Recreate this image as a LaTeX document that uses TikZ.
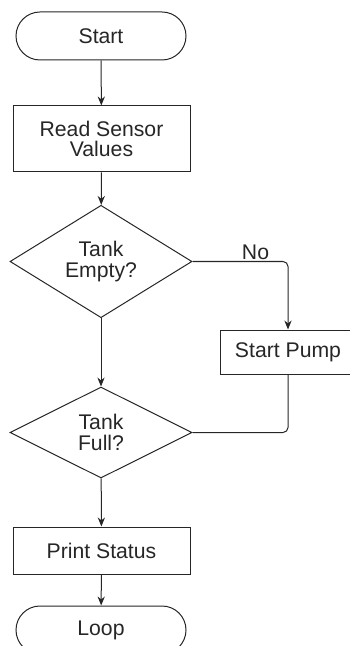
\documentclass[tikz,border=0pt]{standalone}
\usepackage{fontspec}
\setmainfont{Liberation Sans}
\usetikzlibrary{shapes.geometric,arrows.meta}
\begin{document}
\begin{tikzpicture}[x=0.5pt,y=-0.5pt,
  every node/.style={font=\fontsize{10.6}{10.4}\selectfont, align=center, inner sep=0pt, text=black!85},
  box/.style={draw=black!85, line width=0.5pt, rectangle},
  term/.style={draw=black!85, line width=0.5pt, rectangle, rounded corners=12pt, minimum width=85pt, minimum height=24pt},
  dec/.style={draw=black!85, line width=0.5pt, diamond, minimum width=91pt, minimum height=45.5pt},
  conn/.style={draw=black!85, line width=0.5pt, -{Stealth[length=4.5pt,width=3.6pt]}},
  plain/.style={draw=black!85, line width=0.5pt}]
\useasboundingbox (0,0) rectangle (349,646);
\node[term] (start) at (101,36) {Start};
\node[box, minimum width=88.5pt, minimum height=33pt] (read) at (101.5,139) {Read Sensor\\Values};
\node[dec] (d1) at (101,261.5) {Tank\\Empty?};
\node[box, minimum width=68pt, minimum height=22pt] (pump) at (288,352) {Start Pump};
\node[dec] (d2) at (101,432.5) {Tank\\Full?};
\node[box, minimum width=88.5pt, minimum height=23.5pt] (print) at (101.5,550.5) {Print Status};
\node[term] (loop) at (101,630) {Loop};
\draw[conn] (start) -- (read);
\draw[conn] (read) -- (d1);
\draw[conn] (d1) -- (d2);
\draw[conn, rounded corners=2.5pt] (d1.east) -| node[pos=0.33, above, inner sep=0.8pt] (no) {No} (pump.north);
\draw[plain, rounded corners=2.5pt] (pump.south) |- (d2.east);
\draw[conn] (d2) -- (print);
\draw[conn] (print) -- (loop);
\end{tikzpicture}
\end{document}
